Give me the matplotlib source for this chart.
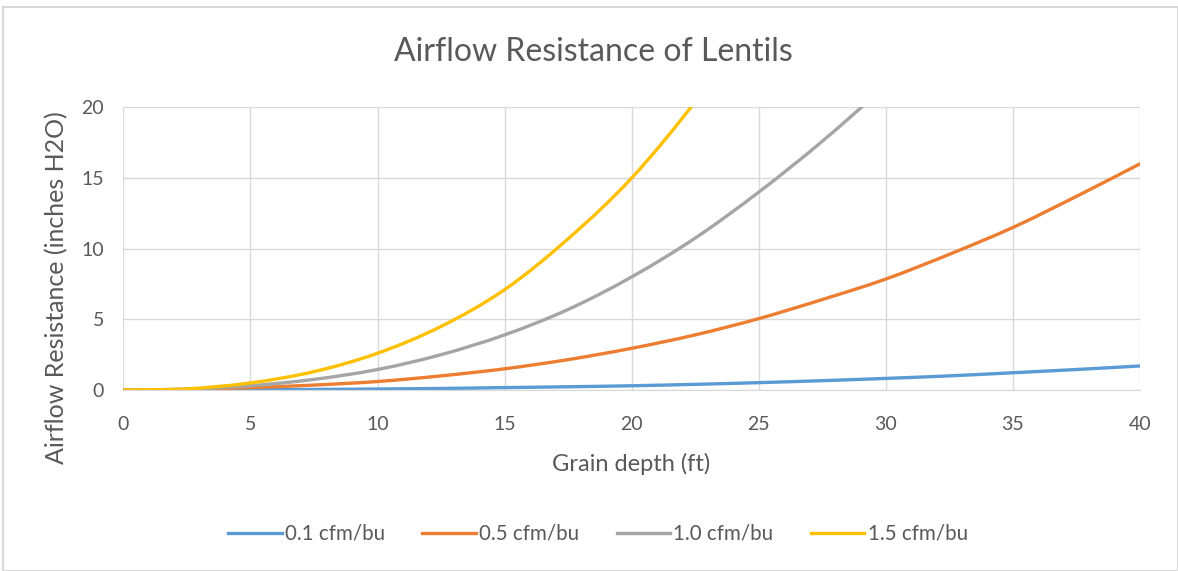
import matplotlib
matplotlib.use("Agg")
import matplotlib.pyplot as plt
from matplotlib.patches import Rectangle, PathPatch
from matplotlib.path import Path
from matplotlib.lines import Line2D

depth_ft = [0, 2.5, 5, 7.5, 10, 12.5, 15, 17.5, 20, 22.5, 25, 27.5, 30, 32.5, 35, 37.5, 40]
r_01 = [0, 0.005, 0.02, 0.04, 0.07, 0.11, 0.17, 0.23, 0.30, 0.40, 0.52, 0.66, 0.82, 1.00, 1.22, 1.45, 1.70]
r_05 = [0, 0.04, 0.17, 0.35, 0.60, 1.00, 1.50, 2.15, 2.95, 3.90, 5.05, 6.40, 7.85, 9.60, 11.5, 13.7, 16.0]
r_10 = [0, 0.06, 0.30, 0.75, 1.45, 2.50, 3.90, 5.70, 8.00, 10.75, 14.0, 17.6, 21.6, 26.2]
r_15 = [0, 0.08, 0.50, 1.30, 2.60, 4.50, 7.10, 10.7, 15.0, 20.4, 26.6]

series = [
    ("0.1 cfm/bu", r_01, "#5B9BD5"),
    ("0.5 cfm/bu", r_05, "#ED7D31"),
    ("1.0 cfm/bu", r_10, "#A5A5A5"),
    ("1.5 cfm/bu", r_15, "#FFC000"),
]

title = "Airflow Resistance of Lentils"
xlabel = "Grain depth (ft)"
ylabel = "Airflow Resistance (inches H2O)"
xticks = [0, 5, 10, 15, 20, 25, 30, 35, 40]
yticks = [0, 5, 10, 15, 20]


def smooth_path(xs, ys):
    """Excel-style smoothed line: cubic Bezier segments through the data points."""
    pts = list(zip(xs, ys))
    n = len(pts)
    verts = [pts[0]]
    codes = [Path.MOVETO]
    for i in range(n - 1):
        p0 = pts[i - 1] if i > 0 else pts[i]
        p1 = pts[i]
        p2 = pts[i + 1]
        p3 = pts[i + 2] if i + 2 < n else pts[i + 1]
        c1 = (p1[0] + (p2[0] - p0[0]) / 6, p1[1] + (p2[1] - p0[1]) / 6)
        c2 = (p2[0] - (p3[0] - p1[0]) / 6, p2[1] - (p3[1] - p1[1]) / 6)
        verts += [c1, c2, p2]
        codes += [Path.CURVE4] * 3
    return Path(verts, codes)


plt.rcParams['font.family'] = ['Lato', 'DejaVu Sans']
W, H = 1178, 571
fig = plt.figure(figsize=(W / 100, H / 100), dpi=100)
fig.patch.set_facecolor("white")
fig.patches.append(Rectangle((3 / W, 0), 1 - 3 / W, 1 - 7 / H, transform=fig.transFigure,
                             fill=False, edgecolor="#D9D9D9", linewidth=1.5))

left, right = 123.4 / W, 1140 / W
top, bottom = 1 - 107.3 / H, 1 - 390 / H
ax = fig.add_axes([left, bottom, right - left, top - bottom])

handles = []
for name, vals, col in series:
    patch = PathPatch(smooth_path(depth_ft[:len(vals)], vals), fill=False, edgecolor=col,
                      linewidth=2.4, capstyle="round", joinstyle="round")
    ax.add_patch(patch)
    patch.set_clip_path(ax.patch)
    handles.append(Line2D([], [], color=col, linewidth=2.4, label=name))

ax.set_xlim(0, 40)
ax.set_ylim(0, 20)
ax.set_xticks(xticks)
ax.set_yticks(yticks)
ax.grid(True, color="#D9D9D9", linewidth=1)
ax.set_axisbelow(True)
for s in ax.spines.values():
    s.set_visible(False)
ax.spines['bottom'].set_visible(True)
ax.spines['bottom'].set_color("#D9D9D9")
ax.tick_params(length=0, labelsize=14, labelcolor="#595959")
ax.tick_params(axis='x', pad=19)
ax.tick_params(axis='y', pad=14)

fig.text(593 / W, 1 - 52 / H, title, ha="center", va="center", fontsize=23, color="#595959")
fig.text(631 / W, 1 - 464 / H, xlabel, ha="center", va="center", fontsize=17, color="#595959")
fig.text(57 / W, 1 - 288 / H, ylabel, ha="center", va="center", rotation=90, fontsize=18, color="#595959")

leg = fig.legend(handles=handles, loc="center", bbox_to_anchor=(598 / W, 1 - 534 / H), ncol=4,
                 frameon=False, fontsize=14.8, handlelength=2.62, handletextpad=0.15,
                 columnspacing=1.8)
for t in leg.get_texts():
    t.set_color("#595959")

fig.savefig("out.png", dpi=100, facecolor="white")
